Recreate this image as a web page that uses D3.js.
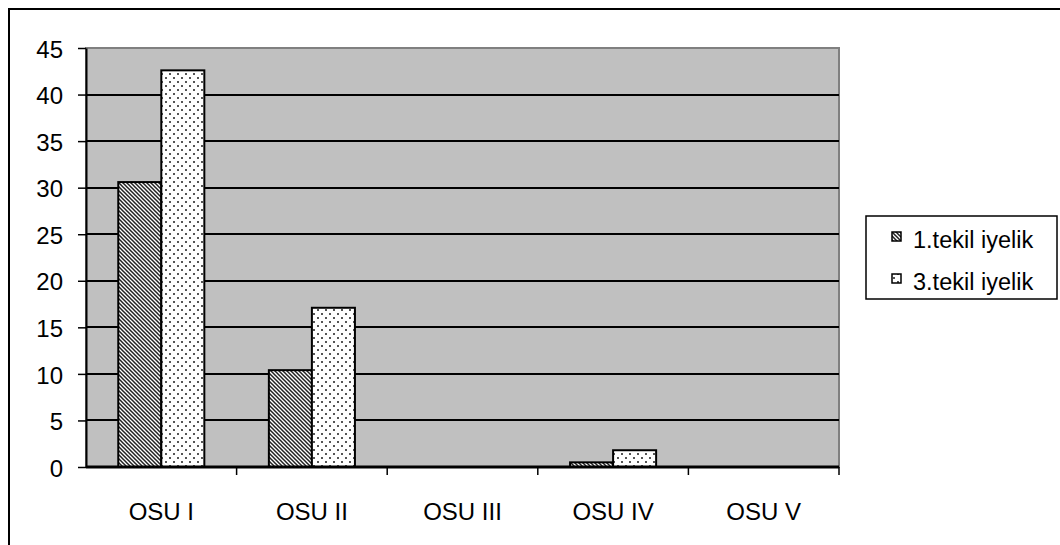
<!DOCTYPE html>
<html>
<head>
<meta charset="utf-8">
<script src="https://cdn.jsdelivr.net/npm/d3@7"></script>
<style>
  html, body { margin: 0; padding: 0; background: #fff; }
  svg { display: block; font-family: Arial, "Liberation Sans", sans-serif; }
</style>
</head>
<body>
<svg id="chart" width="1060" height="545"></svg>
<script>
// Categories and series values
const categories = ["OSU I", "OSU II", "OSU III", "OSU IV", "OSU V"];
const seriesNames = ["1.tekil iyelik", "3.tekil iyelik"];
const firstSingular = [30.6, 10.4, 0, 0.5, 0];
const thirdSingular = [42.6, 17.1, 0, 1.8, 0];
const yTicks = [0, 5, 10, 15, 20, 25, 30, 35, 40, 45];

const svg = d3.select("#chart");
const plot = { left: 86, top: 48, right: 839, bottom: 467 };
const fontStack = "Arial, 'Liberation Sans', sans-serif";

// Fill patterns: diagonal hatch and dotted
const defs = svg.append("defs");
const hatch = defs.append("pattern")
  .attr("id", "hatch").attr("patternUnits", "userSpaceOnUse")
  .attr("width", 4).attr("height", 4);
hatch.append("rect").attr("width", 4).attr("height", 4).attr("fill", "#fff");
hatch.append("path").attr("d", "M-1,-1 L5,5 M-1,3 L1,5 M3,-1 L5,1")
  .attr("stroke", "#222").attr("stroke-width", 1.5);

const dots = defs.append("pattern")
  .attr("id", "dots").attr("patternUnits", "userSpaceOnUse")
  .attr("width", 8).attr("height", 8);
dots.append("rect").attr("width", 8).attr("height", 8).attr("fill", "#fff");
dots.append("rect").attr("x", 1).attr("y", 1).attr("width", 2).attr("height", 2).attr("fill", "#555");
dots.append("rect").attr("x", 5).attr("y", 5).attr("width", 2).attr("height", 2).attr("fill", "#555");

const fills = ["url(#hatch)", "url(#dots)"];

// Outer chart frame
svg.append("path")
  .attr("d", "M9,545 L9,9 L1060,9")
  .attr("fill", "none").attr("stroke", "#000").attr("stroke-width", 2);

// Scales
const x = d3.scaleBand().domain(categories).range([plot.left, plot.right]).paddingInner(0).paddingOuter(0);
const y = d3.scaleLinear().domain([0, 45]).range([plot.bottom, plot.top]);

// Plot area background
svg.append("rect")
  .attr("x", plot.left).attr("y", plot.top)
  .attr("width", plot.right - plot.left).attr("height", plot.bottom - plot.top)
  .attr("fill", "#c0c0c0").attr("stroke", "#808080").attr("stroke-width", 2);

// Gridlines
svg.append("g").selectAll("line")
  .data(yTicks.filter(d => d > 0 && d < 45))
  .join("line")
  .attr("x1", plot.left).attr("x2", plot.right)
  .attr("y1", d => Math.round(y(d))).attr("y2", d => Math.round(y(d)))
  .attr("stroke", "#000").attr("stroke-width", 2);

// Bars
const bw = x.bandwidth();
const barW = bw / 3.5;
const groups = [firstSingular, thirdSingular];
groups.forEach((vals, si) => {
  svg.append("g").selectAll("rect")
    .data(categories.map((c, i) => ({ c, v: vals[i] })).filter(d => d.v > 0))
    .join("rect")
    .attr("x", d => x(d.c) + bw / 2 - barW + si * barW)
    .attr("y", d => y(d.v))
    .attr("width", barW)
    .attr("height", d => y(0) - y(d.v))
    .attr("fill", fills[si])
    .attr("stroke", "#000").attr("stroke-width", 2);
});

// Y axis
const yAxis = d3.axisLeft(y).tickValues(yTicks).tickSize(8).tickSizeOuter(0).tickPadding(15);
const gy = svg.append("g").attr("transform", `translate(${plot.left},0)`).call(yAxis);
gy.select(".domain").attr("stroke", "#000").attr("stroke-width", 2);
gy.selectAll(".tick line").attr("stroke", "#000").attr("stroke-width", 1.5);
gy.selectAll("text").attr("font-size", 24).attr("fill", "#000")
  .attr("font-family", fontStack).attr("dy", "0.38em");

// X axis baseline with ticks at category boundaries
svg.append("line")
  .attr("x1", plot.left).attr("x2", plot.right)
  .attr("y1", plot.bottom).attr("y2", plot.bottom)
  .attr("stroke", "#000").attr("stroke-width", 3);
const bounds = categories.map(c => x(c) + bw);
svg.append("g").selectAll("line").data(bounds).join("line")
  .attr("x1", d => d).attr("x2", d => d)
  .attr("y1", plot.bottom).attr("y2", plot.bottom + 8)
  .attr("stroke", "#000").attr("stroke-width", 1.5);
svg.append("g").selectAll("text").data(categories).join("text")
  .attr("x", d => x(d) + bw / 2)
  .attr("y", 520)
  .attr("text-anchor", "middle")
  .attr("font-size", 24)
  .text(d => d);

// Legend
const lg = svg.append("g");
lg.append("rect").attr("x", 866).attr("y", 216).attr("width", 191).attr("height", 83)
  .attr("fill", "#fff").attr("stroke", "#000").attr("stroke-width", 1.5);
seriesNames.forEach((name, i) => {
  const base = 248 + i * 42;
  lg.append("rect").attr("x", 892).attr("y", base - 16).attr("width", 9).attr("height", 9)
    .attr("fill", fills[i]).attr("stroke", "#000").attr("stroke-width", 1.5);
  lg.append("text").attr("x", 913).attr("y", base).attr("font-size", 23.5).text(name);
});
</script>
</body>
</html>
